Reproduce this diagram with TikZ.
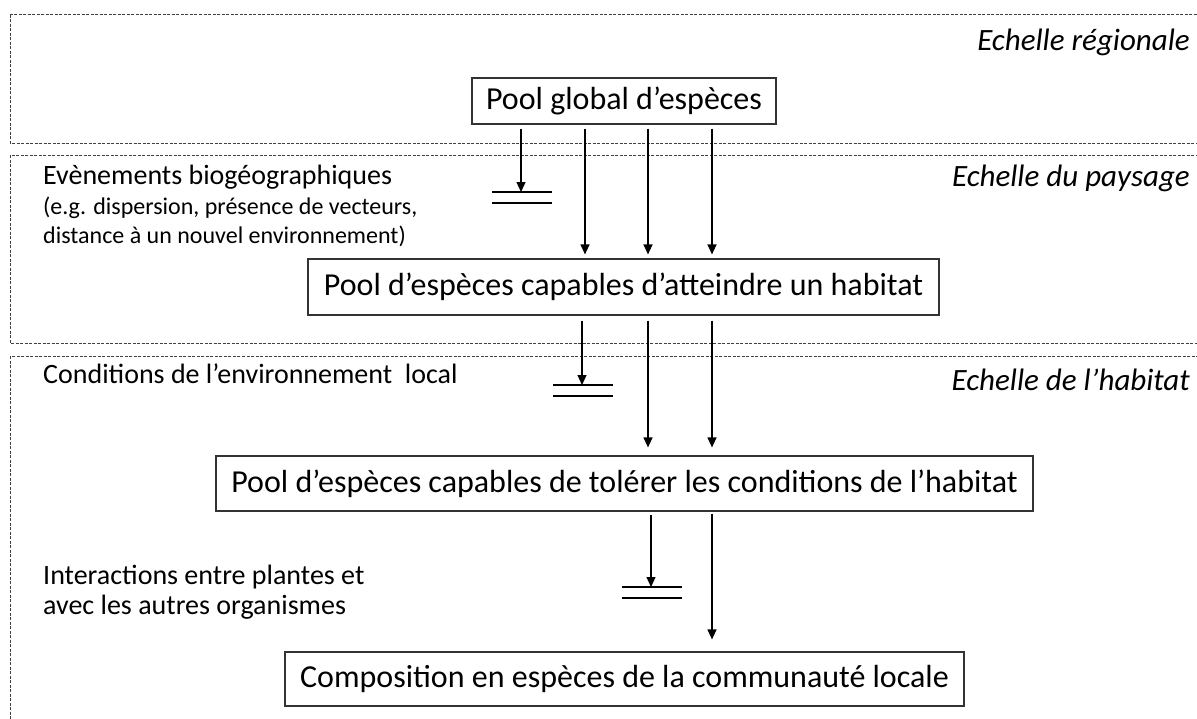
\documentclass[tikz,border=0pt]{standalone}
\usepackage{fontspec}
\setmainfont{Carlito}
\usetikzlibrary{arrows.meta}

\tikzset{
  pool/.style={rectangle, draw=black!80, line width=1.2pt, inner sep=0pt,
    font=\fontsize{32}{38}\selectfont},
  zone/.style={draw=black!75, line width=0.8pt, dash pattern=on 3pt off 1.5pt},
  echelle/.style={anchor=base east, inner sep=0pt, font=\fontsize{31}{36}\selectfont\itshape},
  factor/.style={anchor=base west, inner sep=0pt, font=\fontsize{28}{30}\selectfont},
  factorsmall/.style={anchor=base west, inner sep=0pt, font=\fontsize{24}{29}\selectfont},
  arr/.style={-{Triangle[length=10pt,width=9pt]}, line width=1.2pt},
  bar/.style={line width=1.2pt}
}

\begin{document}
\begin{tikzpicture}[x=1pt, y=-1pt]
\clip (0,0) rectangle (1197,718);

% scale zones
\draw[zone] (10,14.5) rectangle (1215,143);
\draw[zone] (10,155) rectangle (1215,343);
\draw[zone] (10,356) rectangle (1215,740);

\node (regionale) [echelle] at (1190,50) {Echelle régionale};
\node (paysage) [echelle] at (1190,186) {Echelle du paysage};
\node (habitat) [echelle] at (1190,390) {Echelle de l’habitat};

% pools
\node (global) [pool, minimum width=304pt, minimum height=46pt] at (624,101) {Pool global d’espèces};
\node (reach) [pool, minimum width=631pt, minimum height=56pt] at (623.5,287) {Pool d’espèces capables d’atteindre un habitat};
\node (tolerate) [pool, minimum width=817pt, minimum height=55pt] at (624.5,483.5) {Pool d’espèces capables de tolérer les conditions de l’habitat};
\node (local) [pool, minimum width=679pt, minimum height=54pt] at (624.5,679) {Composition en espèces de la communauté locale};

% filters
\node (biogeo) [factor] at (43,184) {Evènements biogéographiques};
\node (biogeo_ex) [factorsmall, align=left] at (43,243) {(e.g. dispersion, présence de vecteurs,\\distance à un nouvel environnement)};
\node (conditions) [factor] at (43,383) {Conditions de l’environnement \ local};
\node (interactions) [factor, align=left] at (43,614) {Interactions entre plantes et\\avec les autres organismes};

% columns of the arrows
\coordinate (c0) at (521,0);
\coordinate (c1) at (585,0);
\coordinate (c2) at (648,0);
\coordinate (c3) at (712,0);
\coordinate (c4) at (651,0);

% stops
\coordinate (stop1) at (521,192);
\coordinate (stop2) at (582,385);
\coordinate (stop3) at (651,587);
\foreach \s in {stop1, stop2, stop3} {
  \draw[bar] ([xshift=-29pt]\s) -- ([xshift=31pt]\s);
  \draw[bar] ([xshift=-29pt,yshift=-11pt]\s) -- ([xshift=31pt,yshift=-11pt]\s);
}

% global -> reach
\draw[arr] ([yshift=-4pt]global.south -| c0) -- (stop1);
\foreach \c in {c1, c2, c3}
  \draw[arr] ([yshift=-4pt]global.south -| \c) -- ([yshift=4pt]reach.north -| \c);

% reach -> tolerate
\draw[arr] ([yshift=-5pt]reach.south -| stop2) -- (stop2);
\foreach \c in {c2, c3}
  \draw[arr] ([yshift=-5pt]reach.south -| \c) -- ([yshift=8pt]tolerate.north -| \c);

% tolerate -> local
\draw[arr] ([yshift=-3pt]tolerate.south -| c4) -- (stop3);
\draw[arr] ([yshift=-2pt]tolerate.south -| c3) -- ([yshift=12pt]local.north -| c3);
\end{tikzpicture}
\end{document}
